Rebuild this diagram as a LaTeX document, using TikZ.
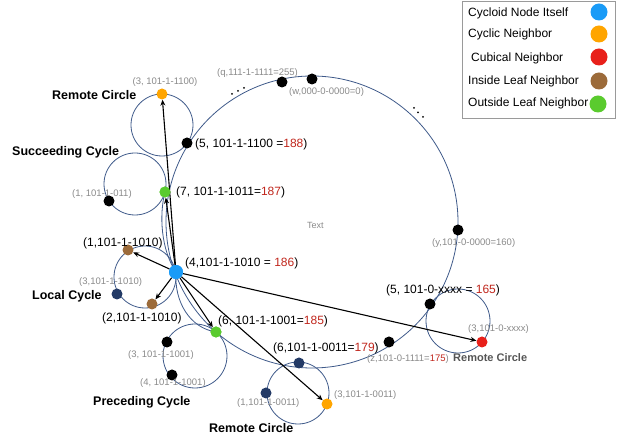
\documentclass[tikz,border=0pt]{standalone}
\usepackage{fontspec}
\setmainfont{Liberation Sans}
\usetikzlibrary{arrows.meta}
\definecolor{cblue}{HTML}{1A9BF7}
\definecolor{corange}{HTML}{FFA500}
\definecolor{cred}{HTML}{E8201A}
\definecolor{cbrown}{HTML}{9C6B3A}
\definecolor{cgreen}{HTML}{5ACB2E}
\definecolor{cnavy}{HTML}{233A66}
\definecolor{ringc}{HTML}{3F5A8A}
\definecolor{tgray}{HTML}{8A8A8A}
\definecolor{numred}{HTML}{C0261C}
\definecolor{dgray}{HTML}{555555}
\definecolor{boxgray}{HTML}{9A9A9A}
\newcommand{\rn}[1]{\textcolor{numred}{#1}}
\begin{document}
\begin{tikzpicture}[x=1pt,y=-1pt,
  ring/.style={draw=ringc, line width=0.8pt},
  dot/.style={circle, inner sep=0pt, minimum size=11pt},
  bigdot/.style={circle, inner sep=0pt, minimum size=14pt},
  legdot/.style={circle, inner sep=0pt, minimum size=17pt},
  arr/.style={-{Stealth[length=6pt,width=5pt]}, line width=1.1pt, black},
  lbl/.style={anchor=west, inner sep=0pt, font=\fontsize{12}{14}\selectfont},
  glbl/.style={anchor=west, inner sep=0pt, text=tgray, font=\fontsize{9.5}{11}\selectfont},
  blbl/.style={anchor=west, inner sep=0pt, font=\bfseries\fontsize{12.5}{14}\selectfont},
  leg/.style={anchor=west, inner sep=0pt, font=\fontsize{12}{14}\selectfont},
  tiny/.style={circle, fill=black, inner sep=0pt, minimum size=2pt}
]
\useasboundingbox (0,0) rectangle (625,443);

% rings
\draw[ring] (312,222) circle[radius=146pt];
\draw[ring] (162,125) circle[radius=31pt];
\draw[ring] (135,184) circle[radius=31pt];
\draw[ring] (145,277) circle[radius=31pt];
\draw[ring] (195,356) circle[radius=32pt];
\draw[ring] (298,393) circle[radius=31pt];
\draw[ring] (458,321) circle[radius=32pt];

% nodes
\node[dot, fill=corange] (orT) at (162,94) {};
\node[dot, fill=black] (b5) at (187,143) {};
\node[dot, fill=cgreen] (g7) at (165,192) {};
\node[dot, fill=black] (b1s) at (109,201) {};
\node[dot, fill=cbrown] (br1) at (128,250) {};
\node[dot, fill=cbrown] (br2) at (152,304) {};
\node[dot, fill=cnavy] (nv3) at (117,294) {};
\node[dot, fill=cgreen] (g6) at (216,332) {};
\node[dot, fill=black] (bp3) at (167,342) {};
\node[dot, fill=black] (bp4) at (172,375) {};
\node[dot, fill=cnavy] (nv6) at (299,363) {};
\node[dot, fill=cnavy] (nv1) at (266,393) {};
\node[dot, fill=corange] (or3) at (327,404) {};
\node[dot, fill=black] (bz) at (389,342) {};
\node[dot, fill=black] (b5r) at (430,304) {};
\node[dot, fill=cred] (red) at (482,342) {};
\node[dot, fill=black] (by) at (458,230) {};
\node[dot, fill=black] (bq) at (282,82) {};
\node[dot, fill=black] (bw) at (312,79) {};
\node[bigdot, fill=cblue] (blue) at (176,272) {};

% extra curves next to the main ring
\begin{scope}[on background layer/.style={}]
\draw[ring] (g7.center) .. controls (159,215) and (161,250) .. (blue.center);
\draw[ring] (blue.center) .. controls (174,302) and (190,328) .. (g6.center);
\end{scope}

% arrows
\draw[arr] (blue) -- (orT);
\draw[arr] (blue) -- (g7);
\draw[arr] (blue) -- (br1);
\draw[arr] (blue) -- (br2);
\draw[arr] (blue) -- (g6);
\draw[arr] (blue) -- (or3);
\draw[arr] (blue) -- (red);

% redraw end dots above curves
\node[dot, fill=cgreen] at (g7) {};
\node[dot, fill=cgreen] at (g6) {};
\node[bigdot, fill=cblue] at (blue) {};

% ellipsis dots
\node[tiny] (e1) at (232,94) {};
\node[tiny] (e2) at (238,91) {};
\node[tiny] (e3) at (244,88) {};
\node[tiny] (e4) at (414,108) {};
\node[tiny] (e5) at (418,112.5) {};
\node[tiny] (e6) at (423,117) {};

% labels
\node[glbl, anchor=center] (t1) at (165,82) {(3, 101-1-1100)};
\node[blbl] (t2) at (52,95) {Remote Circle};
\node[lbl] (t3) at (195,144) {(5, 101-1-1100 =\rn{188})};
\node[blbl] (t4) at (12,152) {Succeeding Cycle};
\node[glbl] (t5) at (72,194) {(1, 101-1-011)};
\node[lbl] (t6) at (176,192) {(7, 101-1-1011=\rn{187})};
\node[glbl, font=\fontsize{9}{11}\selectfont] (t7) at (307,225) {Text};
\node[lbl] (t8) at (83,243) {(1,101-1-1010)};
\node[glbl] (t9) at (79,282) {(3,101-1-1010)};
\node[blbl] (t10) at (32,296) {Local Cycle};
\node[lbl] (t11) at (102,318) {(2,101-1-1010)};
\node[lbl] (t12) at (185,263) {(4,101-1-1010 = \rn{186})};
\node[lbl] (t13) at (218,321) {(6, 101-1-1001=\rn{185})};
\node[glbl] (t14) at (128,355) {(3, 101-1-1001)};
\node[glbl] (t15) at (140,383) {(4, 101-1-1001)};
\node[blbl] (t16) at (93,402) {Preceding Cycle};
\node[blbl] (t17) at (209,428) {Remote Circle};
\node[lbl] (t18) at (273,348) {(6,101-1-0011=\rn{179})};
\node[glbl] (t19) at (237,403) {(1,101-1-0011)};
\node[glbl] (t20) at (334,395) {(3,101-1-0011)};
\node[glbl] (t21) at (367,359) {(z,101-0-1111=\rn{175})};
\node[lbl] (t22) at (386,290) {(5, 101-0-xxxx = \rn{165})};
\node[glbl] (t23) at (468,329) {(3,101-0-xxxx)};
\node[blbl, text=dgray, font=\bfseries\fontsize{11}{13}\selectfont] (t24) at (453,358) {Remote Circle};
\node[glbl] (t25) at (432,243) {(y,101-0-0000=160)};
\node[glbl] (t26) at (217,73) {(q,111-1-1111=255)};
\node[glbl] (t27) at (289,92) {(w,000-0-0000=0)};

% legend
\draw[draw=boxgray, line width=0.8pt] (462,1) rectangle (615,118);
\node[leg] (l1) at (468,13) {Cycloid Node Itself};
\node[leg] (l2) at (468,34) {Cyclic Neighbor};
\node[leg] (l3) at (471,58) {Cubical Neighbor};
\node[leg] (l4) at (468,81) {Inside Leaf Neighbor};
\node[leg] (l5) at (468,103) {Outside Leaf Neighbor};
\node[legdot, fill=cblue] (d1) at (599,12) {};
\node[legdot, fill=corange] (d2) at (599,34) {};
\node[legdot, fill=cred] (d3) at (599,57) {};
\node[legdot, fill=cbrown] (d4) at (599,81) {};
\node[legdot, fill=cgreen] (d5) at (598,104) {};
\end{tikzpicture}
\end{document}
